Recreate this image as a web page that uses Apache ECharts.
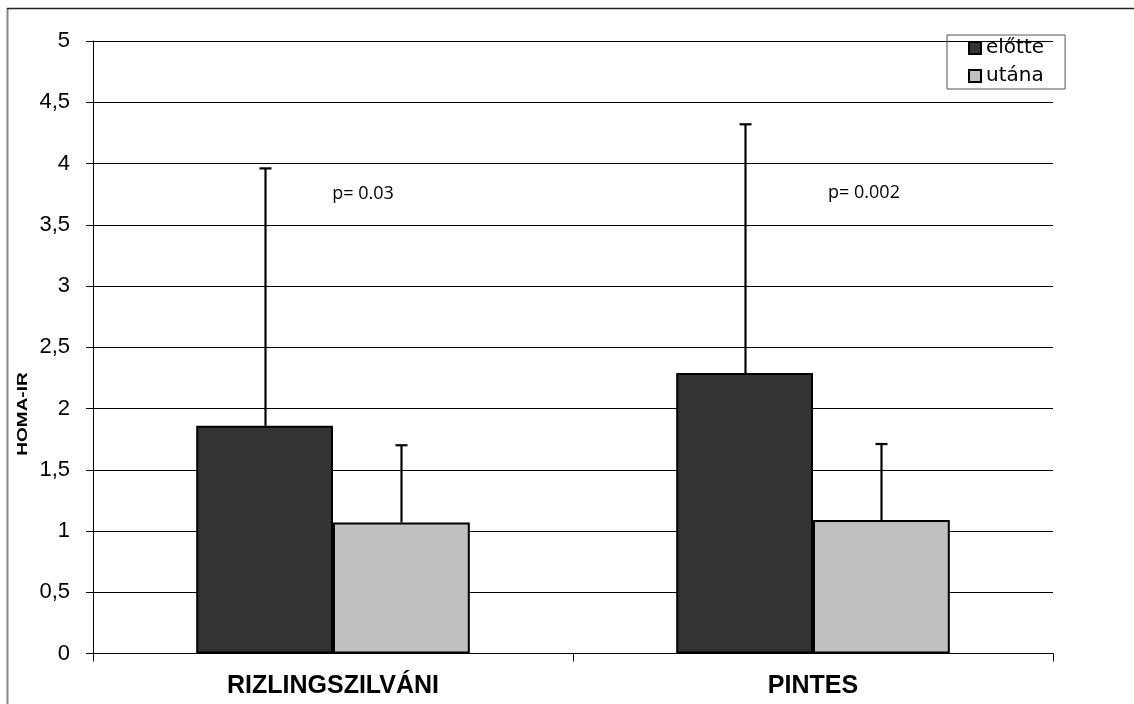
<!DOCTYPE html>
<html>
<head>
<meta charset="utf-8">
<script src="https://cdn.jsdelivr.net/npm/echarts@6/dist/echarts.min.js"></script>
<style>
html,body{margin:0;padding:0;background:#fff;}
#chart{width:1134px;height:704px;}
</style>
</head>
<body>
<div id="chart"></div>
<script>
const categories = ['RIZLINGSZILVÁNI', 'PINTES'];
const seriesNames = ['előtte', 'utána'];
const beforeMean = [1.86, 2.29];
const beforeUpper = [3.96, 4.32];
const afterMean = [1.07, 1.09];
const afterUpper = [1.70, 1.71];
const pLabels = ['p= 0.03', 'p= 0.002'];
const yTicks = [0, 0.5, 1, 1.5, 2, 2.5, 3, 3.5, 4, 4.5, 5];

const GAP = 0.43;
const chart = echarts.init(document.getElementById('chart'), null, {renderer: 'canvas'});

function errRender(sign) {
  return function (params, api) {
    const band = api.size([1, 0])[0];
    const bw = band * (1 - GAP) / 2;
    const base = api.coord([api.value(0), api.value(1)]);
    const top = api.coord([api.value(0), api.value(2)]);
    const x = Math.round(base[0] + sign * bw / 2) + 0.5;
    const style = {stroke: '#000', lineWidth: 2.2};
    return {
      type: 'group',
      children: [
        {type: 'line', shape: {x1: x, y1: base[1], x2: x, y2: top[1]}, style: style},
        {type: 'line', shape: {x1: x - 6, y1: top[1], x2: x + 6, y2: top[1]}, style: style}
      ]
    };
  };
}

const option = {
  animation: false,
  backgroundColor: '#fff',
  grid: {left: 93, right: 81, top: 41, bottom: 50.5, containLabel: false},
  legend: {
    orient: 'vertical',
    left: 947, top: 35,
    data: seriesNames,
    icon: 'rect',
    itemWidth: 12, itemHeight: 12,
    itemGap: 8,
    padding: [3, 21, 3, 21],
    borderColor: '#555', borderWidth: 1,
    textStyle: {fontFamily: 'DejaVu Sans', fontSize: 20, color: '#000'}
  },
  xAxis: {
    type: 'category',
    data: categories,
    axisLine: {lineStyle: {color: '#000', width: 1}},
    axisTick: {show: true, length: 8, lineStyle: {color: '#000'}},
    axisLabel: {fontFamily: 'Liberation Sans, Arial', fontWeight: 'bold', fontSize: 25, color: '#000', margin: 20},
    splitLine: {show: false}
  },
  yAxis: {
    type: 'value',
    min: 0, max: 5, interval: 0.5,
    axisLine: {show: true, lineStyle: {color: '#000', width: 1}},
    axisTick: {show: true, length: 7, lineStyle: {color: '#000'}},
    axisLabel: {
      fontFamily: 'Liberation Sans, Arial', fontSize: 22, color: '#000', margin: 23,
      formatter: v => String(yTicks.find(t => Math.abs(t - v) < 1e-9) ?? v).replace('.', ',')
    },
    splitLine: {show: true, lineStyle: {color: '#000', width: 1}}
  },
  series: [
    {
      name: seriesNames[0], type: 'bar', data: beforeMean,
      barGap: '0%', barCategoryGap: (GAP * 100) + '%',
      itemStyle: {color: '#333333', borderColor: '#000', borderWidth: 2},
      z: 2
    },
    {
      name: seriesNames[1], type: 'bar', data: afterMean,
      barGap: '0%', barCategoryGap: (GAP * 100) + '%',
      itemStyle: {color: '#C0C0C0', borderColor: '#000', borderWidth: 2},
      z: 2
    },
    {
      type: 'custom', name: 'err1', renderItem: errRender(-1),
      data: categories.map((c, i) => [i, beforeMean[i], beforeUpper[i]]),
      encode: {x: 0, y: [1, 2]}, z: 5, silent: true
    },
    {
      type: 'custom', name: 'err2', renderItem: errRender(1),
      data: categories.map((c, i) => [i, afterMean[i], afterUpper[i]]),
      encode: {x: 0, y: [1, 2]}, z: 5, silent: true
    }
  ],
  graphic: [
    {type: 'line', shape: {x1: 7.5, y1: 8, x2: 7.5, y2: 720}, style: {stroke: '#888', lineWidth: 2}, z: 10},
    {type: 'line', shape: {x1: 7, y1: 8.5, x2: 1140, y2: 8.5}, style: {stroke: '#222', lineWidth: 1.5}, z: 10},
    {type: 'text', x: 23, y: 414, rotation: Math.PI / 2, scaleX: 1, scaleY: 0.78,
     style: {text: 'HOMA-IR', fontFamily: 'Liberation Sans, Arial', fontWeight: 'bold', fontSize: 19, fill: '#000', align: 'center', verticalAlign: 'middle'}, z: 10},
    {type: 'text', x: 363, y: 194, style: {text: pLabels[0], fontFamily: 'Open Sans', fontSize: 18, fill: '#000', align: 'center', verticalAlign: 'middle'}, z: 10},
    {type: 'text', x: 864, y: 193, style: {text: pLabels[1], fontFamily: 'Open Sans', fontSize: 18, fill: '#000', align: 'center', verticalAlign: 'middle'}, z: 10}
  ]
};
chart.setOption(option);
</script>
</body>
</html>
